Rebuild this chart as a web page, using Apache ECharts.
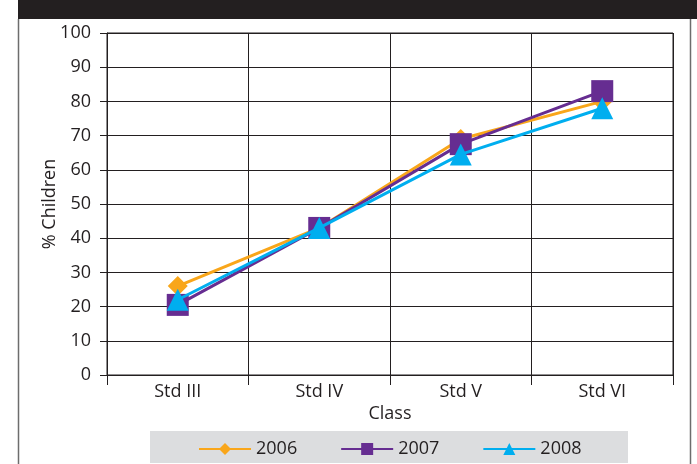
<!DOCTYPE html>
<html><head><meta charset="utf-8">
<script src="https://cdn.jsdelivr.net/npm/echarts@6/dist/echarts.min.js"></script>
<style>html,body{margin:0;padding:0;background:#fff}#c{width:697px;height:464px}</style>
</head><body><div id="c"></div>
<script>
const categories = ['Std III', 'Std IV', 'Std V', 'Std VI'];
const s2006 = [26, 43, 69, 80];
const s2007 = [20.5, 43, 67.5, 83];
const s2008 = [22, 43, 64.5, 78];
const yTicks = [0, 10, 20, 30, 40, 50, 60, 70, 80, 90, 100];

const FONT = '"Open Sans", sans-serif';
const chart = echarts.init(document.getElementById('c'));
chart.setOption({
  animation: false,
  backgroundColor: '#fff',
  textStyle: { fontFamily: FONT },
  graphic: [
    { type: 'rect', shape: { x: 18, y: 0, width: 679, height: 19 }, style: { fill: '#231f20' }, z: -1 },
    { type: 'line', shape: { x1: 18.5, y1: 19, x2: 18.5, y2: 464 }, style: { stroke: '#6d6d6d', lineWidth: 1.5 } },
    { type: 'line', shape: { x1: 690.5, y1: 19, x2: 690.5, y2: 464 }, style: { stroke: '#6d6d6d', lineWidth: 1.5 } },
    { type: 'rect', shape: { x: 150, y: 431, width: 478, height: 32 }, style: { fill: '#dcdddf' }, z: -1 }
  ],
  grid: { left: 107, right: 24, top: 33, bottom: 89, show: true, borderColor: '#231f20', borderWidth: 1 },
  legend: {
    data: ['2006', '2007', '2008'],
    left: 198, top: 440, padding: 0,
    itemWidth: 52, itemHeight: 15, itemGap: 43,
    textStyle: { fontFamily: FONT, fontSize: 18, color: '#231f20' }
  },
  xAxis: {
    type: 'category', data: categories, boundaryGap: true,
    name: 'Class', nameLocation: 'middle', nameGap: 30, nameMoveOverlap: false,
    nameTextStyle: { fontSize: 18, color: '#231f20', fontFamily: FONT },
    axisLine: { lineStyle: { color: '#231f20', width: 1 } },
    axisTick: { show: true, length: 10, lineStyle: { color: '#231f20' } },
    axisLabel: { fontSize: 18, color: '#231f20', margin: 8, fontFamily: FONT },
    splitLine: { show: true, lineStyle: { color: '#231f20', width: 1 } }
  },
  yAxis: {
    type: 'value', min: yTicks[0], max: yTicks[yTicks.length - 1], interval: 10,
    name: '% Children', nameLocation: 'middle', nameGap: 48, nameMoveOverlap: false,
    nameTextStyle: { fontSize: 18, color: '#231f20', fontFamily: FONT },
    axisLine: { show: true, lineStyle: { color: '#231f20', width: 1 } },
    axisTick: { show: true, length: 7, lineStyle: { color: '#231f20' } },
    axisLabel: { fontSize: 18, color: '#231f20', margin: 16, fontFamily: FONT },
    splitLine: { show: true, lineStyle: { color: '#231f20', width: 1 } }
  },
  series: [
    { name: '2006', type: 'line', data: s2006, symbol: 'diamond', symbolSize: 20,
      lineStyle: { color: '#f9a61a', width: 3 }, itemStyle: { color: '#f9a61a' }, z: 2 },
    { name: '2007', type: 'line', data: s2007, symbol: 'rect', symbolSize: 22,
      lineStyle: { color: '#662d91', width: 3 }, itemStyle: { color: '#662d91' }, z: 3 },
    { name: '2008', type: 'line', data: s2008, symbol: 'triangle', symbolSize: 22,
      lineStyle: { color: '#00aeef', width: 3 }, itemStyle: { color: '#00aeef' }, z: 4 }
  ]
});
</script></body></html>
